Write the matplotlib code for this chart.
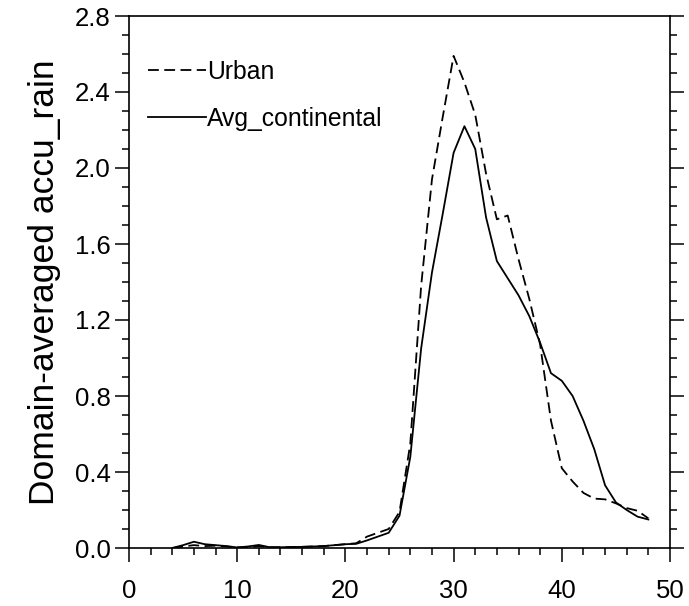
import matplotlib
matplotlib.use("Agg")
import matplotlib.pyplot as plt
from matplotlib.ticker import MultipleLocator, FormatStrFormatter

plt.rcParams['font.family'] = ['Liberation Sans', 'DejaVu Sans']

x = list(range(4, 49))
urban = [0.0, 0.008, 0.015, 0.01, 0.012, 0.008, 0.003, 0.005, 0.01, 0.004,
         0.004, 0.005, 0.006, 0.008, 0.01, 0.015, 0.02, 0.025, 0.06, 0.08,
         0.10, 0.19, 0.55, 1.38, 1.94, 2.27, 2.59, 2.45, 2.28, 1.97,
         1.73, 1.75, 1.52, 1.31, 1.07, 0.67, 0.42, 0.35, 0.29, 0.26,
         0.256, 0.235, 0.21, 0.196, 0.156]
avg_cont = [0.0, 0.015, 0.033, 0.02, 0.015, 0.01, 0.003, 0.008, 0.016, 0.004,
            0.004, 0.005, 0.006, 0.008, 0.01, 0.015, 0.02, 0.022, 0.04, 0.06,
            0.08, 0.17, 0.48, 1.05, 1.45, 1.76, 2.08, 2.22, 2.10, 1.74,
            1.51, 1.42, 1.33, 1.22, 1.08, 0.92, 0.88, 0.80, 0.67, 0.52,
            0.33, 0.24, 0.20, 0.165, 0.15]
labels = ["Urban", "Avg_continental"]
ylabel = "Domain-averaged accu_rain"

fig = plt.figure(figsize=(6.89, 6.06), dpi=100)
ax = fig.add_axes([129/689, 58/606, 541/689, 532/606])

ax.plot(x, urban, color='black', lw=1.3, linestyle=(0, (6, 3)), label=labels[0])
ax.plot(x, avg_cont, color='black', lw=1.3, linestyle='-', label=labels[1])

ax.set_xlim(0, 50)
ax.set_ylim(0, 2.8)
ax.xaxis.set_major_locator(MultipleLocator(10))
ax.xaxis.set_minor_locator(MultipleLocator(2))
ax.yaxis.set_major_locator(MultipleLocator(0.4))
ax.yaxis.set_minor_locator(MultipleLocator(0.1))
ax.yaxis.set_major_formatter(FormatStrFormatter('%.1f'))

for s in ax.spines.values():
    s.set_linewidth(1.2)
    s.set_color('black')

ax.tick_params(which='both', direction='out', top=False, right=True,
               labelsize=18.5, width=1.1, color='black')
ax.tick_params(which='major', length=10)
ax.tick_params(which='minor', length=5)
ax.tick_params(axis='x', which='major', pad=12)
ax.tick_params(axis='y', which='major', pad=3)

ax.set_ylabel(ylabel, fontsize=25.5, labelpad=10)

leg = ax.legend(loc='upper left', bbox_to_anchor=(0.016, 0.936), frameon=False,
                fontsize=17.8, handlelength=2.35, handletextpad=0.05,
                labelspacing=0.92, borderaxespad=0)

fig.savefig("out.png", dpi=100)
